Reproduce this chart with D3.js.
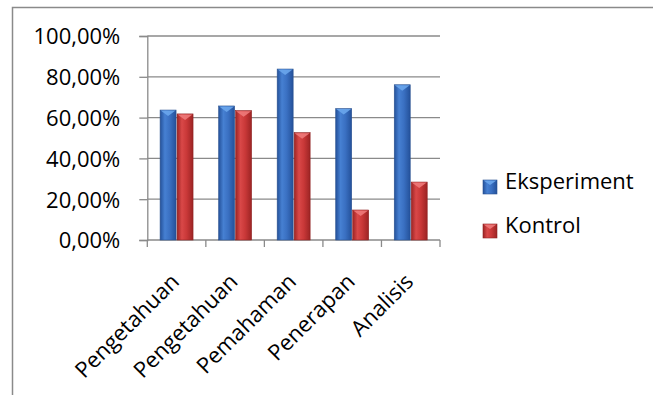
<!DOCTYPE html>
<html>
<head>
<meta charset="utf-8">
<script src="https://cdn.jsdelivr.net/npm/d3@7/dist/d3.min.js"></script>
<style>
  html, body { margin: 0; padding: 0; background: #fff; }
  svg { display: block; }
  text { font-family: "Open Sans", sans-serif; fill: #000; }
</style>
</head>
<body>
<svg id="chart" width="653" height="395"></svg>
<script>
// ---- data ----
const categories = ["Pengetahuan", "Pengetahuan", "Pemahaman", "Penerapan", "Analisis"];
const seriesNames = ["Eksperiment", "Kontrol"];
const eksperiment = [0.637, 0.657, 0.838, 0.644, 0.761];
const kontrol = [0.618, 0.634, 0.526, 0.147, 0.284];
const yTicks = [0, 0.2, 0.4, 0.6, 0.8, 1.0];
const yTickLabels = ["0,00%", "20,00%", "40,00%", "60,00%", "80,00%", "100,00%"];

const svg = d3.select("#chart");
const plotLeft = 147.3, plotRight = 440, plotTop = 36, plotBottom = 240;
const fontSize = 22;

// gradients
const defs = svg.append("defs");
function makeGrad(id, edge, mid, light) {
  const g = defs.append("linearGradient").attr("id", id)
    .attr("x1", "0%").attr("x2", "100%").attr("y1", "0%").attr("y2", "0%");
  g.append("stop").attr("offset", "0%").attr("stop-color", edge);
  g.append("stop").attr("offset", "30%").attr("stop-color", light);
  g.append("stop").attr("offset", "60%").attr("stop-color", mid);
  g.append("stop").attr("offset", "100%").attr("stop-color", edge);
}
makeGrad("gBlue", "#24519a", "#3a70c2", "#4680d2");
makeGrad("gRed", "#9c2424", "#c93838", "#d94848");
const colors = {
  Eksperiment: { fill: "url(#gBlue)", bevel: "#6aa6ec", stroke: "#2a5290" },
  Kontrol: { fill: "url(#gRed)", bevel: "#ee7a7a", stroke: "#8e2222" }
};

// outer border
svg.append("rect").attr("x", 12.5).attr("y", 7.5).attr("width", 700).attr("height", 400)
  .attr("fill", "none").attr("stroke", "#8a8a8a").attr("stroke-width", 1.5);

// scales
const y = d3.scaleLinear().domain([0, 1]).range([plotBottom, plotTop]);
const x0 = d3.scaleBand().domain(d3.range(categories.length)).range([plotLeft, plotRight])
  .paddingInner(0.42).paddingOuter(0.21);
const x1 = d3.scaleBand().domain(seriesNames).range([0, x0.bandwidth()]);

// gridlines
svg.append("g").selectAll("line").data(yTicks.filter(d => d > 0)).join("line")
  .attr("x1", plotLeft).attr("x2", plotRight)
  .attr("y1", d => y(d)).attr("y2", d => y(d))
  .attr("stroke", "#8a8a8a").attr("stroke-width", 1.3);

// y axis
const yAxis = d3.axisLeft(y).tickValues(yTicks).tickSize(8).tickPadding(19)
  .tickFormat((d, i) => yTickLabels[i]);
const gy = svg.append("g").attr("transform", `translate(${plotLeft},0)`).call(yAxis);
gy.select(".domain").attr("stroke", "#8a8a8a").attr("stroke-width", 1.3);
gy.selectAll(".tick line").attr("stroke", "#8a8a8a").attr("stroke-width", 1.3);
gy.selectAll(".tick text").attr("font-size", fontSize).attr("font-family", "Open Sans")
  .attr("fill", "#000").attr("dy", "0.36em");

// x axis baseline & category ticks
svg.append("line").attr("x1", plotLeft).attr("x2", plotRight).attr("y1", plotBottom).attr("y2", plotBottom)
  .attr("stroke", "#8a8a8a").attr("stroke-width", 1.3);
const boundaries = d3.range(categories.length + 1).map(i => plotLeft + i * x0.step());
svg.append("g").selectAll("line").data(boundaries).join("line")
  .attr("x1", d => d).attr("x2", d => d).attr("y1", plotBottom).attr("y2", plotBottom + 7)
  .attr("stroke", "#8a8a8a").attr("stroke-width", 1.3);

// bars
const data = [];
categories.forEach((c, i) => {
  data.push({ i, s: "Eksperiment", v: eksperiment[i] });
  data.push({ i, s: "Kontrol", v: kontrol[i] });
});
const bars = svg.append("g");
data.forEach(d => {
  const bx = x0(d.i) + x1(d.s), bw = x1.bandwidth();
  const by = y(d.v), bh = y(0) - y(d.v);
  const c = colors[d.s];
  bars.append("rect").attr("x", bx + 0.5).attr("y", by).attr("width", bw - 1).attr("height", bh)
    .attr("fill", c.fill).attr("stroke", c.stroke).attr("stroke-width", 0.6);
  const bev = Math.min(6, bh / 2);
  bars.append("path")
    .attr("d", `M${bx + 1},${by + 0.5} L${bx + bw - 1},${by + 0.5} L${bx + bw / 2},${by + bev} Z`)
    .attr("fill", c.bevel).attr("opacity", 0.9);
});

// x labels
svg.append("g").selectAll("text").data(categories).join("text")
  .attr("transform", (d, i) => `translate(${x0(i) + x0.bandwidth() / 2 + 4},${plotBottom + 43}) rotate(-45)`)
  .attr("text-anchor", "end")
  .attr("font-size", fontSize)
  .text(d => d);

// legend
const legendRows = [
  { name: seriesNames[0], cy: 181 },
  { name: seriesNames[1], cy: 225 }
];
legendRows.forEach(r => {
  const c = colors[r.name];
  const mx = 483, my = r.cy - 1, ms = 14;
  svg.append("rect").attr("x", mx).attr("y", my).attr("width", ms).attr("height", ms)
    .attr("fill", c.fill).attr("stroke", c.stroke).attr("stroke-width", 0.6);
  svg.append("path")
    .attr("d", `M${mx + 0.5},${my + 0.5} L${mx + ms - 0.5},${my + 0.5} L${mx + ms / 2},${my + 5} Z`)
    .attr("fill", c.bevel).attr("opacity", 0.9);
  svg.append("text").attr("x", 505).attr("y", r.cy).attr("dy", "0.36em")
    .attr("font-size", fontSize).text(r.name);
});
</script>
</body>
</html>
